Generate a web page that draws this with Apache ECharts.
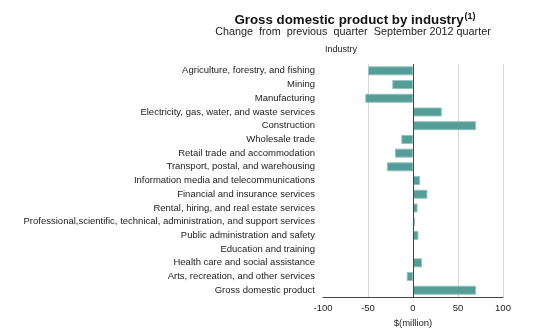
<!DOCTYPE html>
<html>
<head>
<meta charset="utf-8">
<script src="https://cdn.jsdelivr.net/npm/echarts@6/dist/echarts.min.js"></script>
<style>html,body{margin:0;padding:0;background:#fff}#c{width:558px;height:333px}</style>
</head>
<body>
<div id="c"></div>
<script>
var categories = [
  "Agriculture, forestry, and fishing",
  "Mining",
  "Manufacturing",
  "Electricity, gas, water, and waste services",
  "Construction",
  "Wholesale trade",
  "Retail trade and accommodation",
  "Transport, postal, and warehousing",
  "Information media and telecommunications",
  "Financial and insurance services",
  "Rental, hiring, and real estate services",
  "Professional,scientific, technical, administration, and support services",
  "Public administration and safety",
  "Education and training",
  "Health care and social assistance",
  "Arts, recreation, and other services",
  "Gross domestic product"
];
var values = [-50, -23, -53, 32, 70, -13, -20, -29, 8, 16, 5, 2, 6, 1, 10, -7, 70];
var xTicks = [-100, -50, 0, 50, 100];

var chart = echarts.init(document.getElementById('c'), null, {renderer: 'canvas'});
var font = 'Liberation Sans, Arial, sans-serif';
chart.setOption({
  animation: false,
  title: [{
    text: '{t|Gross domestic product by industry}{s|(1)}',
    left: 350, top: 7, textAlign: 'center',
    textStyle: {
      rich: {
        t: {fontFamily: font, fontWeight: 'bold', fontSize: 13.3, color: '#111'},
        s: {fontFamily: font, fontSize: 9, color: '#111', verticalAlign: 'top', padding: [0,0,8,1]}
      }
    }
  }, {
    text: 'Change  from  previous  quarter  September 2012 quarter',
    left: 348, top: 22, textAlign: 'center',
    textStyle: {fontFamily: font, fontWeight: 'normal', fontSize: 10.8, color: '#222'}
  }, {
    text: 'Industry',
    left: 336, top: 40, textAlign: 'center',
    textStyle: {fontFamily: font, fontWeight: 'normal', fontSize: 9, color: '#222'}
  }],
  grid: {left: 323, right: 55, top: 64, bottom: 34, containLabel: false},
  xAxis: {
    type: 'value', min: xTicks[0], max: xTicks[xTicks.length - 1], interval: 50,
    name: '$(million)', nameLocation: 'middle', nameGap: 18,
    nameTextStyle: {fontFamily: font, fontSize: 9.5, color: '#222'},
    axisLine: {show: true, lineStyle: {color: '#444', width: 1}},
    axisTick: {show: false},
    axisLabel: {fontFamily: font, fontSize: 9.5, color: '#222', margin: 6},
    splitLine: {show: true, showMinLine: false, lineStyle: {color: '#d9d9d9', width: 1}}
  },
  yAxis: {
    type: 'category', data: categories, inverse: true,
    axisLine: {show: false}, axisTick: {show: false},
    axisLabel: {fontFamily: font, fontSize: 9.5, color: '#222', margin: 8}
  },
  series: [{
    type: 'bar', data: values, barWidth: 9,
    itemStyle: {color: '#559d97', borderColor: '#93c4bf', borderWidth: 1},
    markLine: {
      silent: true, symbol: 'none', label: {show: false},
      lineStyle: {color: '#444', width: 1, type: 'solid'},
      data: [{xAxis: 0}]
    }
  }]
});
</script>
</body>
</html>
